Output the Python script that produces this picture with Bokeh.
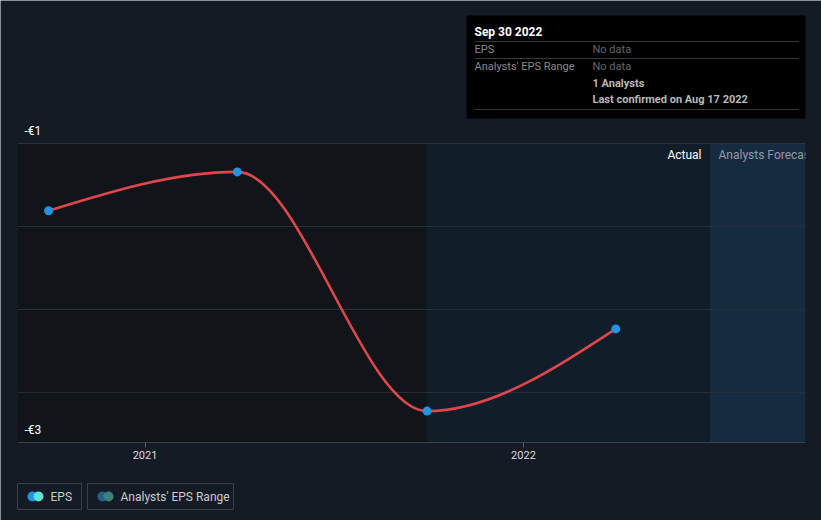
import numpy as np
import pandas as pd
from bokeh.plotting import figure
from bokeh.models import Range1d, DatetimeAxis, FixedTicker, DatetimeTickFormatter
from bokeh.core.properties import value
from bokeh.embed import file_html
from bokeh.resources import INLINE

# ---------------- data ----------------
period_end = ["2020-09-30", "2021-03-31", "2021-09-30", "2022-03-31"]
eps_values = [-1.45, -1.19, -2.79, -2.24]
y_tick_values = [-1, -3]
y_tick_labels = ["-€1", "-€3"]
x_tick_dates = ["2021-01-01", "2022-01-01"]
grid_values = [-1.0, -1.555, -2.11, -2.665]
range_start = "2020-08-31"
actual_start = "2021-09-30"
forecast_start = "2022-06-30"
range_end = "2022-09-30"

legend_labels = ["EPS", "Analysts' EPS Range"]
tooltip_title = "Sep 30 2022"
tooltip_rows = ["EPS", "Analysts' EPS Range"]
tooltip_vals = ["No data", "No data"]
tooltip_notes = ["1 Analysts", "Last confirmed on Aug 17 2022"]

# ---------------- helpers ----------------
def ms(d):
    return float(pd.Timestamp(d).value // 10**6)

W, H = 821, 520
PL, PR, PT, PB = 17, 805, 143, 442
BG = "#151b24"
FONT = value("Roboto")

ms_start, ms_end = ms(range_start), ms(range_end)
xscale = (PR - PL) / (ms_end - ms_start)
x_lo = ms_start - PL / xscale
x_hi = ms_end + (W - PR) / xscale
yscale = (PB - PT) / (y_tick_values[0] - y_tick_values[1])
y_hi = y_tick_values[0] + PT / yscale
y_lo = y_tick_values[1] - (H - PB) / yscale

def X(px):
    return x_lo + px / xscale

def Y(py):
    return y_hi - py / yscale

p = figure(width=W, height=H, output_backend="svg", toolbar_location=None,
           x_axis_type="datetime", x_axis_location=None, y_axis_location=None,
           x_range=Range1d(x_lo, x_hi), y_range=Range1d(y_lo, y_hi),
           min_border=0, background_fill_color=BG, border_fill_color=BG,
           outline_line_color=None)
p.grid.visible = False

y_top, y_bot = y_tick_values[0], y_tick_values[1]

# ---------------- background regions ----------------
p.quad(left=[ms_start], right=[ms(actual_start)], top=[y_top], bottom=[y_bot],
       fill_color="#111419", line_color=None)
p.quad(left=[ms(actual_start)], right=[ms(forecast_start)], top=[y_top], bottom=[y_bot],
       fill_color="#111d29", line_color=None)
p.quad(left=[ms(forecast_start)], right=[ms_end], top=[y_top], bottom=[y_bot],
       fill_color="#172b40", line_color=None)

# grid lines
p.segment(x0=[ms_start] * len(grid_values), x1=[ms_end] * len(grid_values),
          y0=grid_values, y1=grid_values, line_color="#2a313b", line_width=1)
# baseline
p.segment(x0=[ms_start], x1=[ms_end], y0=[y_bot], y1=[y_bot], line_color="#3b414a", line_width=1)

# ---------------- EPS line (monotone-x cubic through the data) ----------------
xs = np.array([ms(d) for d in period_end])
ys = np.array(eps_values, dtype=float)
n = len(xs)
h = np.diff(xs)
s = np.diff(ys) / h
t = np.zeros(n)
for i in range(1, n - 1):
    pp = (s[i - 1] * h[i] + s[i] * h[i - 1]) / (h[i - 1] + h[i])
    t[i] = (np.sign(s[i - 1]) + np.sign(s[i])) * min(abs(s[i - 1]), abs(s[i]), 0.5 * abs(pp))
t[0] = (3 * s[0] - t[1]) / 2
t[-1] = (3 * s[-1] - t[-2]) / 2
dx = h
p.bezier(x0=xs[:-1], y0=ys[:-1], x1=xs[1:], y1=ys[1:],
         cx0=xs[:-1] + dx / 3, cy0=ys[:-1] + dx * t[:-1] / 3,
         cx1=xs[1:] - dx / 3, cy1=ys[1:] - dx * t[1:] / 3,
         line_color="#e0474c", line_width=2.6)
p.scatter(x=xs, y=ys, size=9, fill_color="#2394df", line_color=None)

# ---------------- region labels ----------------
p.text(x=[X(701)], y=[Y(154)], text=["Actual"], text_font=FONT, text_font_size="12px",
       text_color="#ffffff", text_align="right", text_baseline="middle")
p.text(x=[X(718)], y=[Y(154)], text=["Analysts Forecasts"], text_font=FONT,
       text_font_size="12px", text_color="#8f9aa6", text_align="left", text_baseline="middle")
# right margin cover (clips the forecast label like the reference)
p.quad(left=[X(PR)], right=[X(W)], top=[Y(138)], bottom=[Y(445)], fill_color=BG, line_color=None)

# ---------------- y labels ----------------
p.text(x=[X(24)] * len(y_tick_values), y=y_tick_values, text=y_tick_labels, y_offset=-13,
       text_font=FONT, text_font_size="12px", text_color="#ffffff",
       text_align="left", text_baseline="middle")

# ---------------- x axis ----------------
fmt = "%Y"
xaxis = DatetimeAxis(fixed_location=y_bot,
                     ticker=FixedTicker(ticks=[ms(d) for d in x_tick_dates]),
                     formatter=DatetimeTickFormatter(microseconds=fmt, milliseconds=fmt, seconds=fmt,
                                                     minsec=fmt, minutes=fmt, hourmin=fmt, hours=fmt,
                                                     days=fmt, months=fmt, years=fmt))
xaxis.axis_line_color = None
xaxis.major_tick_line_color = "#5a6069"
xaxis.major_tick_in = 0
xaxis.major_tick_out = 5
xaxis.minor_tick_line_color = None
xaxis.major_label_text_color = "#dddddd"
xaxis.major_label_text_font = "Roboto"
xaxis.major_label_text_font_size = "11px"
xaxis.major_label_standoff = 3
p.add_layout(xaxis, "below")

# ---------------- tooltip box ----------------
p.quad(left=[X(466)], right=[X(805)], top=[Y(15)], bottom=[Y(118)], fill_color="#000000", line_color=None)
p.text(x=[X(474)], y=[Y(31)], text=[tooltip_title], text_font=FONT, text_font_size="12px",
       text_font_style="bold", text_color="#ffffff", text_baseline="middle")
p.segment(x0=[X(474)] * 3, x1=[X(798)] * 3, y0=[Y(41), Y(58), Y(109)], y1=[Y(41), Y(58), Y(109)],
          line_color="#3a3a3a", line_width=1)
p.text(x=[X(474)] * 2, y=[Y(49), Y(66)], text=tooltip_rows, text_font=FONT, text_font_size="11px",
       text_color="#8a8a8a", text_baseline="middle")
p.text(x=[X(592)] * 2, y=[Y(49), Y(66)], text=tooltip_vals, text_font=FONT, text_font_size="11px",
       text_color="#666666", text_baseline="middle")
p.text(x=[X(592)] * 2, y=[Y(83), Y(99)], text=tooltip_notes, text_font=FONT, text_font_size="11px",
       text_font_style="bold", text_color="#b8b8b8", text_baseline="middle")

# ---------------- legend ----------------
p.quad(left=[X(17), X(87)], right=[X(81), X(233)], top=[Y(483)] * 2, bottom=[Y(509)] * 2,
       fill_color=None, line_color="#3a4049", line_width=1)
p.scatter(x=[X(32), X(102)], y=[Y(496)] * 2, size=10, fill_color=["#2394df", "#255f8c"], line_color=None)
p.scatter(x=[X(38), X(108)], y=[Y(496)] * 2, size=10, fill_color=["#5fe3d3", "#3f7f7a"], line_color=None)
p.text(x=[X(50), X(120)], y=[Y(496)] * 2, text=legend_labels, text_font=FONT, text_font_size="12px",
       text_color="#c8ccd2", text_baseline="middle")

open("out.html", "w").write(file_html(p, INLINE))
